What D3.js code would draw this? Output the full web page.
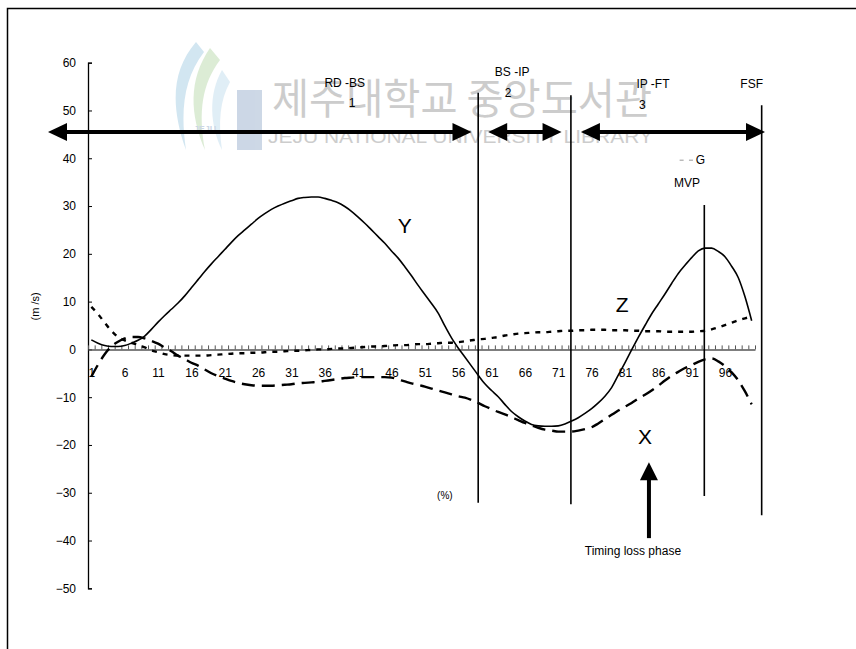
<!DOCTYPE html>
<html>
<head>
<meta charset="utf-8">
<script src="https://cdn.jsdelivr.net/npm/d3@7"></script>
<style>
  html, body { margin: 0; padding: 0; background: #fff; }
  svg { display: block; }
  text { font-family: "Liberation Sans", Arial, sans-serif; }
</style>
</head>
<body>
<svg id="chart" width="856" height="649"></svg>
<script>
// Club-head velocity components over the normalised swing (%), in m/s
const categories = d3.range(1, 101);
const tickLabels = [1, 6, 11, 16, 21, 26, 31, 36, 41, 46, 51, 56, 61, 66, 71, 76, 81, 86, 91, 96];
const yTicks = [-50, -40, -30, -20, -10, 0, 10, 20, 30, 40, 50, 60];

const seriesY = [
  2.0, 1.3, 0.8, 0.6, 0.6, 0.8, 1.3, 1.9, 2.8, 4.2,
  5.7, 7.1, 8.4, 9.7, 11.2, 12.9, 14.6, 16.3, 17.9, 19.4,
  20.9, 22.4, 23.8, 25.0, 26.2, 27.4, 28.4, 29.3, 30.0, 30.6,
  31.1, 31.6, 31.8, 31.9, 31.9, 31.6, 31.2, 30.7, 29.9, 28.9,
  27.7, 26.4, 25.0, 23.6, 22.2, 20.6, 19.1, 17.3, 15.4, 13.4,
  11.5, 9.6, 7.6, 4.9, 2.4, 0.3, -1.6, -3.5, -5.4, -7.2,
  -8.6, -9.9, -11.5, -13.0, -14.1, -15.0, -15.7, -16.0, -16.1, -16.1,
  -16.0, -15.6, -15.0, -14.3, -13.4, -12.4, -11.2, -9.8, -8.0, -5.4,
  -2.8, -0.1, 2.5, 5.0, 7.4, 9.5, 11.6, 13.8, 15.9, 17.6,
  19.2, 20.6, 21.2, 21.2, 20.5, 19.4, 17.4, 15.0, 11.0, 6.0
];

const seriesX = [
  -5.7, -3.2, -1.0, 0.6, 1.6, 2.3, 2.6, 2.6, 2.3, 1.8,
  1.2, 0.4, -0.4, -1.3, -2.0, -2.8, -3.4, -4.2, -5.0, -5.6,
  -6.1, -6.6, -7.0, -7.3, -7.5, -7.6, -7.6, -7.6, -7.5, -7.4,
  -7.3, -7.1, -7.0, -6.9, -6.8, -6.6, -6.4, -6.2, -6.0, -5.9,
  -5.8, -5.8, -5.8, -5.8, -5.8, -5.9, -6.3, -6.7, -7.1, -7.4,
  -7.8, -8.2, -8.6, -9.0, -9.4, -9.8, -10.1, -10.6, -11.2, -11.9,
  -12.5, -13.1, -13.6, -14.2, -14.8, -15.4, -15.9, -16.4, -16.8, -17.0,
  -17.2, -17.2, -17.2, -17.0, -16.7, -16.3, -15.5, -14.6, -13.7, -12.8,
  -12.0, -11.2, -10.3, -9.5, -8.6, -7.6, -6.5, -5.5, -4.7, -3.9,
  -3.3, -2.6, -2.1, -1.9, -2.5, -3.5, -4.8, -6.5, -8.8, -11.5
];

const seriesZ = [
  8.9, 7.4, 5.6, 3.9, 2.6, 1.9, 1.4, 0.9, 0.4, -0.2,
  -0.6, -1.0, -1.2, -1.3, -1.3, -1.3, -1.3, -1.3, -1.2, -1.1,
  -1.0, -0.9, -0.8, -0.8, -0.7, -0.7, -0.6, -0.5, -0.5, -0.4,
  -0.3, -0.3, -0.2, -0.1, 0.0, 0.0, 0.1, 0.2, 0.2, 0.3,
  0.4, 0.5, 0.6, 0.6, 0.7, 0.8, 0.9, 0.9, 1.0, 1.1,
  1.1, 1.2, 1.3, 1.4, 1.4, 1.5, 1.7, 1.9, 2.1, 2.2,
  2.4, 2.6, 2.9, 3.1, 3.3, 3.4, 3.5, 3.6, 3.6, 3.7,
  3.8, 3.9, 3.9, 4.0, 4.0, 4.1, 4.1, 4.1, 4.0, 4.0,
  4.0, 3.9, 3.9, 3.8, 3.8, 3.8, 3.7, 3.7, 3.7, 3.7,
  3.7, 3.8, 3.9, 4.2, 4.6, 5.1, 5.6, 6.1, 6.5, 6.9
];

// Phase boundaries: [position on the % axis, top value, bottom value]
const phaseLines = [
  [59.0, 53.7, -32.1],
  [72.9, 53.2, -32.4],
  [92.9, 30.2, -30.7],
  [101.5, 51.1, -34.7]
];
// Phase span arrows at 45.5 m/s: [from, to]
const phaseArrowLevel = 45.5;
const phaseArrows = [[-5.5, 58.0], [60.5, 71.5], [74.4, 102.0]];

// Text annotations: [text, position, value, font size]
const annotations = [
  ["RD -BS", 39.0, 55.0, 12],
  ["1", 40.1, 50.8, 12],
  ["BS -IP", 64.1, 57.2, 12],
  ["2", 63.5, 52.8, 12],
  ["IP -FT", 85.2, 54.7, 12],
  ["3", 83.6, 50.3, 12],
  ["FSF", 100.0, 54.7, 12],
  ["G", 92.3, 38.8, 12],
  ["MVP", 90.3, 34.0, 12],
  ["Y", 48.0, 24.4, 21],
  ["Z", 80.6, 7.8, 21],
  ["X", 84.0, -19.8, 21],
  ["(%)", 54.0, -31.3, 10],
  ["Timing loss phase", 82.2, -43.0, 12]
];
const timingArrow = { at: 84.6, tip: -23.6, tail: -39.5 };

const svg = d3.select("#chart");
const x = d3.scaleLinear().domain([0.5, 100.5]).range([88, 755]);
const y = d3.scaleLinear().domain([-50, 60]).range([588.3, 62.7]);

// outer frame
svg.append("rect")
  .attr("x", 7.5).attr("y", 8.5).attr("width", 900).attr("height", 700)
  .attr("fill", "none").attr("stroke", "#000").attr("stroke-width", 1.5);

// library watermark
const logo = svg.append("g").attr("opacity", 0.35);
logo.append("path")
  .attr("d", "M196,42 C172,70 170,105 186,150 C180,110 184,78 204,52 Z")
  .attr("fill", "#7fb8d8");
logo.append("path")
  .attr("d", "M210,48 C188,80 190,115 205,150 C198,112 202,84 220,60 Z")
  .attr("fill", "#9cc98a");
logo.append("path")
  .attr("d", "M222,70 C208,95 210,125 222,150 C218,122 220,100 230,82 Z")
  .attr("fill", "#a9cfe6");
logo.append("rect").attr("x", 237).attr("y", 90).attr("width", 25).attr("height", 60)
  .attr("fill", "#6f8fb8");
logo.append("text").attr("x", 205).attr("y", 132).attr("text-anchor", "middle")
  .attr("font-size", 9).attr("font-weight", "bold").attr("fill", "#6f8fb8").text("JEJU");
const wm = svg.append("g").attr("opacity", 0.5);
wm.append("text")
  .attr("x", 272).attr("y", 114)
  .attr("textLength", 380).attr("lengthAdjust", "spacingAndGlyphs")
  .attr("font-size", 42).attr("fill", "#9a9a9a")
  .style("font-family", "'Noto Sans CJK KR', sans-serif")
  .text("제주대학교 중앙도서관");
wm.append("text")
  .attr("x", 268).attr("y", 143)
  .attr("textLength", 385).attr("lengthAdjust", "spacingAndGlyphs")
  .attr("font-size", 18).attr("fill", "#9a9a9a")
  .text("JEJU NATIONAL UNIVERSITY LIBRARY");

// y axis
const yAxis = svg.append("g")
  .attr("transform", `translate(${x.range()[0]},0)`)
  .call(d3.axisLeft(y).tickValues(yTicks).tickSize(-4).tickPadding(12).tickFormat(d3.format("d")));
yAxis.select(".domain").attr("stroke", "#000").attr("stroke-width", 1.3);
yAxis.selectAll(".tick line").attr("stroke", "#000");
yAxis.selectAll("text").attr("font-size", 12).attr("fill", "#000")
  .style("font-family", "'Liberation Sans', Arial, sans-serif");

// x axis at zero: category ticks between bands, labels every 5th category
const y0 = y(0);
const xTicks = svg.append("g")
  .attr("transform", `translate(0,${y0})`)
  .call(d3.axisBottom(x).tickValues(d3.range(0.5, 101, 1)).tickSize(-4).tickSizeOuter(0).tickFormat(""));
xTicks.select(".domain").attr("stroke", "#555").attr("stroke-width", 1.5);
xTicks.selectAll(".tick line").attr("stroke", "#555");
const xLabels = svg.append("g")
  .attr("transform", `translate(0,${y0})`)
  .call(d3.axisBottom(x).tickValues(tickLabels).tickSize(0).tickPadding(19).tickFormat(d3.format("d")));
xLabels.select(".domain").remove();
xLabels.selectAll("text").attr("font-size", 12).attr("fill", "#000")
  .style("font-family", "'Liberation Sans', Arial, sans-serif");

// y-axis title
svg.append("text")
  .attr("transform", `translate(39,${y(9)}) rotate(-90)`)
  .attr("text-anchor", "middle").attr("font-size", 11).text("(m /s)");

// velocity curves
const line = d3.line()
  .x((d, i) => x(categories[i]))
  .y(d => y(d))
  .curve(d3.curveMonotoneX);

svg.append("path").datum(seriesZ).attr("d", line)
  .attr("fill", "none").attr("stroke", "#000").attr("stroke-width", 2.4)
  .attr("stroke-dasharray", "5,6");
svg.append("path").datum(seriesX).attr("d", line)
  .attr("fill", "none").attr("stroke", "#000").attr("stroke-width", 2.4)
  .attr("stroke-dasharray", "13,7");
svg.append("path").datum(seriesY).attr("d", line)
  .attr("fill", "none").attr("stroke", "#000").attr("stroke-width", 1.6);

// phase boundary lines
svg.append("g").selectAll("line").data(phaseLines).join("line")
  .attr("x1", d => x(d[0])).attr("x2", d => x(d[0]))
  .attr("y1", d => y(d[1])).attr("y2", d => y(d[2]))
  .attr("stroke", "#000").attr("stroke-width", 1.6);

// double-headed phase arrows
const head = 19, half = 9;
const arrows = svg.append("g");
phaseArrows.forEach(([a, b]) => {
  const x1 = x(a), x2 = x(b), yy = y(phaseArrowLevel);
  arrows.append("line")
    .attr("x1", x1 + head - 2).attr("x2", x2 - head + 2).attr("y1", yy).attr("y2", yy)
    .attr("stroke", "#000").attr("stroke-width", 4);
  arrows.append("path")
    .attr("d", `M${x1},${yy} L${x1 + head},${yy - half} L${x1 + head},${yy + half} Z`);
  arrows.append("path")
    .attr("d", `M${x2},${yy} L${x2 - head},${yy - half} L${x2 - head},${yy + half} Z`);
});

// timing-loss arrow
{
  const ax = x(timingArrow.at), yt = y(timingArrow.tip), yb = y(timingArrow.tail);
  svg.append("line").attr("x1", ax).attr("x2", ax).attr("y1", yt + 16).attr("y2", yb)
    .attr("stroke", "#000").attr("stroke-width", 4);
  svg.append("path").attr("d", `M${ax},${yt} L${ax - 9},${yt + 18} L${ax + 9},${yt + 18} Z`);
}

// small marks before "G"
svg.append("g").selectAll("line").data([89.5, 90.9]).join("line")
  .attr("x1", d => x(d) - 2).attr("x2", d => x(d) + 2)
  .attr("y1", y(39.6)).attr("y2", y(39.6))
  .attr("stroke", "#999").attr("stroke-width", 1);

// annotations
svg.append("g").selectAll("text").data(annotations).join("text")
  .attr("x", d => x(d[1])).attr("y", d => y(d[2]))
  .attr("text-anchor", "middle")
  .attr("font-size", d => d[3])
  .attr("fill", "#000")
  .text(d => d[0]);
</script>
</body>
</html>
